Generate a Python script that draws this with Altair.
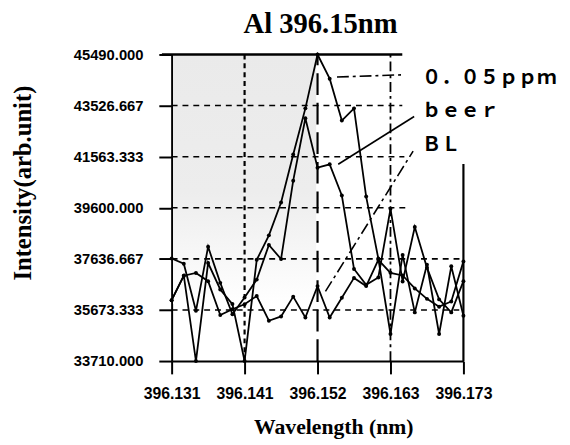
import altair as alt
import pandas as pd

# ---------------- data ----------------
wavelength = [396.13100, 396.13275, 396.13450, 396.13625, 396.13800, 396.13975,
              396.14150, 396.14325, 396.14500, 396.14675, 396.14850, 396.15025,
              396.15200, 396.15375, 396.15550, 396.15725, 396.15900, 396.16075,
              396.16250, 396.16425, 396.16600, 396.16775, 396.16950, 396.17125,
              396.17300]
ppm005 = [36050, 36990, 33710, 37475, 36460, 35900, 33710, 37600, 38540, 39800,
          41650, 43420, 45490, 44560, 42950, 43420, 40030, 37650, 34750, 37790,
          35580, 37410, 34750, 37350, 35450]
beer = [37650, 37450, 35640, 38100, 36715, 35510, 36150, 36840, 38170, 37630,
        40640, 43040, 41140, 41270, 40070, 37250, 36640, 36920, 39560, 36770,
        38860, 37300, 36080, 35580, 36780]
bl = [36050, 36990, 37095, 36780, 35475, 35700, 35890, 36210, 35260, 35425,
      36185, 35385, 36590, 35385, 36145, 36905, 36590, 37600, 37100, 37000,
      36500, 36100, 35800, 36000, 37540]
series_names = ["0.05ppm", "beer", "BL"]
label_texts = ["０．０５ｐｐｍ", "ｂｅｅｒ", "ＢＬ"]

x_ticks = [396.131, 396.1415, 396.152, 396.1625, 396.173]
x_tick_labels = ["396.131", "396.141", "396.152", "396.163", "396.173"]
y_ticks = [33710.0, 35673.333, 37636.667, 39600.0, 41563.333, 43526.667, 45490.0]

XMIN, XMAX = 396.131, 396.173
YMIN, YMAX = 33710.0, 45490.0

rows = []
for name, vals in zip(series_names, [ppm005, beer, bl]):
    for w, v in zip(wavelength, vals):
        rows.append({"series": name, "wavelength": w, "intensity": v})
df = pd.DataFrame(rows)

xs = alt.Scale(domain=[XMIN, XMAX], nice=False, zero=False)
ys = alt.Scale(domain=[YMIN, YMAX], nice=False, zero=False)

label_expr = " : ".join(
    f"abs(datum.value - {v}) < 0.0005 ? '{l}'" for v, l in zip(x_ticks, x_tick_labels)
) + " : ''"

x_axis = alt.Axis(values=x_ticks, labelExpr=label_expr, grid=False,
                  labelOverlap=False, labelFlush=False,
                  tickSize=13, tickWidth=2, tickColor="black",
                  domainColor="black", domainWidth=2,
                  labelFont="Liberation Sans", labelFontSize=16, labelFontWeight="bold",
                  labelColor="black", labelPadding=12,
                  title="Wavelength (nm)", titleFont="Liberation Serif",
                  titleFontSize=22, titleFontWeight="bold", titleColor="black",
                  titleX=164, titleY=73, titleAlign="center", titleBaseline="alphabetic")
y_axis = alt.Axis(values=y_ticks, format=".3f", grid=False,
                  labelOverlap=False, labelFlush=False,
                  tickSize=13, tickWidth=2, tickColor="black",
                  domainColor="black", domainWidth=2,
                  labelFont="Liberation Sans", labelFontSize=15, labelFontWeight="bold",
                  labelColor="black", labelPadding=16,
                  title="Intensity(arb.unit)", titleFont="Liberation Serif",
                  titleFontSize=25, titleFontWeight="bold", titleColor="black",
                  titleAngle=270, titleX=-151, titleY=130,
                  titleAlign="center", titleBaseline="middle")

# shaded scan area (light grey, fading downwards)
shade = pd.DataFrame({"x": [396.1312], "x2": [396.1518], "y": [35900.0], "y2": [45490.0]})
grad = alt.Gradient(gradient="linear",
                    stops=[alt.GradientStop(color="#eaeaea", offset=0),
                           alt.GradientStop(color="#ededed", offset=0.55),
                           alt.GradientStop(color="#ffffff", offset=1)],
                    x1=0, x2=0, y1=0, y2=1)
shade_layer = alt.Chart(shade).mark_rect(color=grad).encode(
    x=alt.X("x:Q", scale=xs, axis=x_axis), x2="x2:Q",
    y=alt.Y("y:Q", scale=ys, axis=y_axis), y2="y2:Q")

# horizontal dashed grid lines
hgrid = pd.DataFrame({
    "y": y_ticks[1:6],
    "x": [XMIN] * 5,
    "x2": [396.1724, 396.173, 396.1649, 396.1645, 396.1642],
})
hgrid_layer = alt.Chart(hgrid).mark_rule(color="black", strokeWidth=1.6,
                                         strokeDash=[6, 5]).encode(
    x=alt.X("x:Q", scale=xs), x2="x2:Q", y=alt.Y("y:Q", scale=ys))

# top solid line
top = pd.DataFrame({"x": [396.1296], "x2": [396.1642], "y": [YMAX]})
top_layer = alt.Chart(top).mark_rule(color="black", strokeWidth=2.5).encode(
    x=alt.X("x:Q", scale=xs), x2="x2:Q", y=alt.Y("y:Q", scale=ys))

def vline(xv, dash, width, y0=YMIN, y1=YMAX):
    d = pd.DataFrame({"x": [xv], "y": [y0], "y2": [y1]})
    kw = dict(color="black", strokeWidth=width)
    if dash:
        kw["strokeDash"] = dash
    return alt.Chart(d).mark_rule(**kw).encode(
        x=alt.X("x:Q", scale=xs), y=alt.Y("y:Q", scale=ys), y2="y2:Q")

v1 = vline(x_ticks[1], [5, 4], 2.2)
v2 = vline(x_ticks[2], [22, 8], 2.2)
v3 = vline(x_ticks[3], [10, 4, 3, 4], 1.8)
v4 = vline(x_ticks[4], None, 2.2, YMIN, 41283)

# data lines
lines = alt.Chart(df).mark_line(color="black", strokeWidth=1.8,
                                point=alt.OverlayMarkDef(filled=True, color="black", size=16)).encode(
    x=alt.X("wavelength:Q", scale=xs),
    y=alt.Y("intensity:Q", scale=ys),
    detail="series:N")

# leader lines
lead = pd.DataFrame({
    "x": [396.15480, 396.15498, 396.15314],
    "y": [44624, 41272, 36385],
    "x2": [396.16449, 396.16591, 396.16576],
    "y2": [44712, 43106, 41777],
})
lead_solid = alt.Chart(lead.iloc[[1]]).mark_rule(color="black", strokeWidth=1.6).encode(
    x=alt.X("x:Q", scale=xs), y=alt.Y("y:Q", scale=ys), x2="x2:Q", y2="y2:Q")
lead_dd = alt.Chart(lead.iloc[[0, 2]]).mark_rule(color="black", strokeWidth=1.6,
                                                 strokeDash=[12, 4, 3, 4]).encode(
    x=alt.X("x:Q", scale=xs), y=alt.Y("y:Q", scale=ys), x2="x2:Q", y2="y2:Q")

labels = pd.DataFrame({"text": label_texts, "x": [396.16704] * 3,
                       "y": [44358, 43105, 41776]})
label_layer = alt.Chart(labels).mark_text(align="left", baseline="alphabetic",
                                          font="Noto Sans CJK JP", fontSize=19.5,
                                          fontWeight="bold", color="black").encode(
    x=alt.X("x:Q", scale=xs), y=alt.Y("y:Q", scale=ys), text="text:N")

title_layer = alt.Chart(pd.DataFrame({"t": ["Al 396.15nm"]})).mark_text(
    align="center", baseline="alphabetic", font="Liberation Serif", fontSize=29,
    fontWeight="bold", color="black").encode(
    x=alt.value(151), y=alt.value(-22), text="t:N")

chart = alt.layer(shade_layer, hgrid_layer, top_layer, v1, v2, v3, v4, lines,
                  lead_solid, lead_dd, label_layer, title_layer).properties(
    width=296, height=311,
    autosize=alt.AutoSizeParams(type="none"),
    padding={"left": 166, "top": 44, "right": 100, "bottom": 82},
    background="white",
).configure_view(stroke=None)

chart.save("out.html", embed_options={"renderer": "svg", "actions": False})
